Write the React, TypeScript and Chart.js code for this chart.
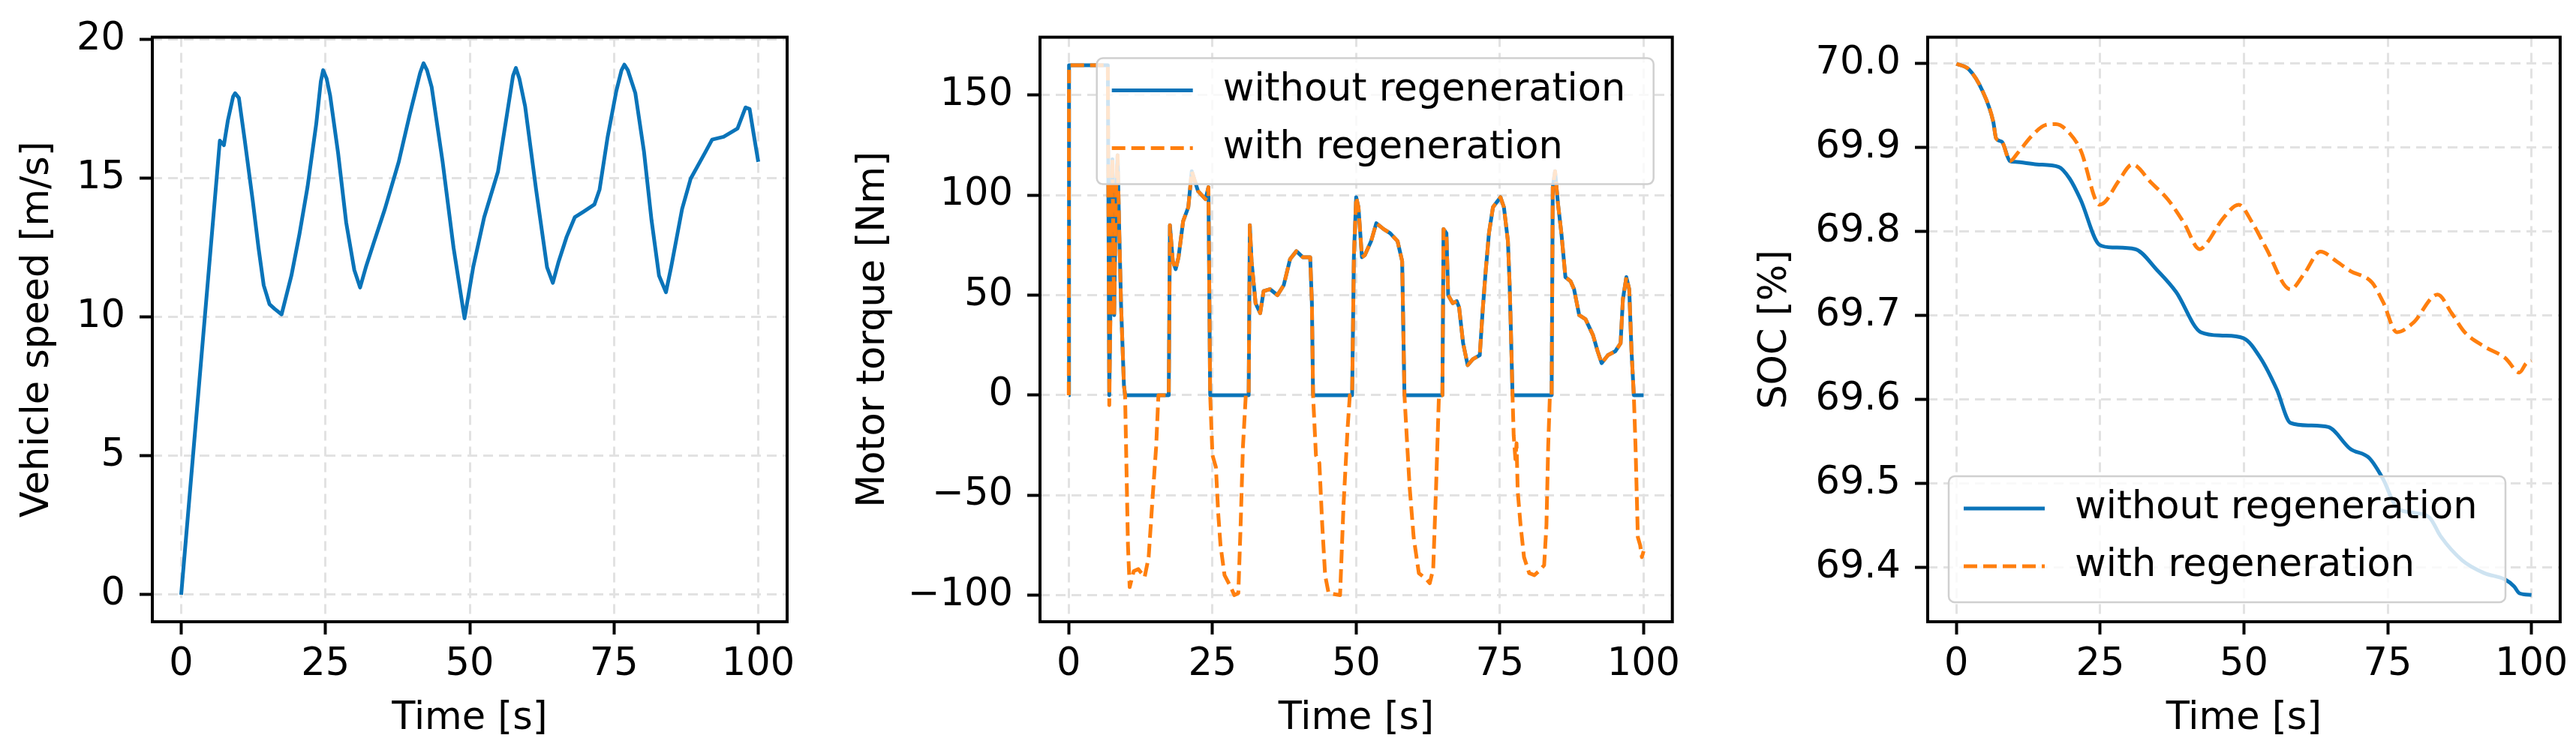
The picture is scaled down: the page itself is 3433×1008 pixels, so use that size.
import { useEffect, useRef } from 'react';
import { Chart, registerables } from 'chart.js';

Chart.register(...registerables);
Chart.defaults.font.family = '"DejaVu Sans", "Noto Sans", sans-serif';
Chart.defaults.font.size = 51;
Chart.defaults.color = '#000';

const BLUE = '#0a74b9';
const ORANGE = '#ff7f0e';
const GRID = '#e2e2e2';

// shared axis / legend data
const timeTicks = [0, 25, 50, 75, 100];
const seriesLabels = ['without regeneration', 'with regeneration'];

// vehicle speed [m/s]
const speedTime = [
  0, 3.4, 6.7, 7.4, 8.1, 9.0, 9.35, 10, 11, 12.4, 13.4, 14.3, 15.3, 16.2, 17.4, 19.1, 20.5, 21.9,
  23.4, 24.2, 24.6, 25.2, 25.8, 27.2, 28.6, 30, 31, 32, 33.4, 35.3, 37.7, 39.6, 41.4, 42, 42.6,
  43.4, 45.3, 47.2, 49.1, 50.6, 52.5, 54.9, 56.3, 57.5, 58, 58.6, 59.6, 61.5, 63.4, 64.4, 65.4,
  66.8, 68.2, 69.7, 71.6, 72.5, 73.9, 75.4, 76.3, 76.8, 77.4, 78.7, 80.2, 81.5, 82.8, 84, 84.9,
  86.8, 88.3, 90.7, 92, 94, 96.4, 97.8, 98.5, 99.2, 100,
];
const speedValues = [
  0, 8.3, 16.36, 16.2, 17.1, 17.95, 18.07, 17.9, 16.4, 14.2, 12.5, 11.15, 10.47, 10.3, 10.1, 11.5,
  13.0, 14.7, 16.96, 18.5, 18.9, 18.6, 18.0, 15.9, 13.4, 11.7, 11.07, 11.8, 12.7, 13.9, 15.6, 17.3,
  18.8, 19.15, 18.9, 18.3, 15.6, 12.5, 9.96, 11.8, 13.6, 15.25, 17.1, 18.7, 18.98, 18.6, 17.6,
  14.6, 11.8, 11.24, 12.0, 12.9, 13.6, 13.8, 14.06, 14.6, 16.5, 18.15, 18.9, 19.1, 18.9, 18.07,
  15.96, 13.5, 11.5, 10.9, 11.8, 13.9, 15.0, 15.9, 16.4, 16.5, 16.8, 17.56, 17.5, 16.6, 15.6,
];
const speedTicks = [0, 5, 10, 15, 20];

// motor torque [Nm]
const torqueTime = [
  0, 0.05, 6.8, 7.05, 7.6, 7.9, 8.2, 8.5, 8.8, 9.1, 9.6, 9.8, 10.0, 10.3, 10.6, 11.3, 12.1, 13.2,
  13.9, 14.5, 15.2, 15.6, 17.4, 17.6, 18.1, 18.6, 19.1, 19.9, 20.8, 21.4, 22.5, 23.8, 24.3, 24.6,
  25.0, 25.6, 26.0, 26.4, 27.1, 28.2, 28.8, 29.5, 29.9, 30.3, 30.8, 31.3, 31.5, 31.8, 32.5, 33.3,
  33.9, 35.0, 36.3, 37.4, 38.5, 39.6, 40.7, 42.0, 42.3, 42.5, 43.0, 43.6, 44.1, 44.6, 45.2, 47.2,
  47.8, 48.5, 48.9, 49.3, 49.6, 50.0, 50.4, 51.0, 51.5, 52.6, 53.5, 54.8, 55.9, 57.2, 58.0, 58.4,
  58.9, 59.3, 60.0, 60.9, 62.2, 62.8, 63.4, 63.9, 64.4, 65.0, 65.2, 65.7, 66.0, 66.8, 67.5, 67.9,
  68.6, 69.4, 70.3, 71.5, 72.0, 72.5, 73.1, 73.8, 75.1, 75.7, 76.4, 76.7, 76.9, 77.2, 77.4, 77.7,
  77.9, 78.1, 78.6, 79.2, 80.1, 81.0, 81.8, 82.7, 83.1, 83.4, 83.7, 84.0, 84.2, 84.6, 85.1, 85.7,
  86.4, 87.3, 87.9, 88.8, 89.9, 91.2, 92.0, 92.7, 93.8, 95.1, 96.0, 96.4, 97.0, 97.5, 97.9, 98.3,
  98.6, 99.0, 99.4, 99.7, 100,
];
const torqueWithout = [
  0, 165, 165, 0, 118, 40, 100, 120, 80, 45, 5, 0, 0, 0, 0, 0, 0, 0,
  0, 0, 0, 0, 0, 85, 67, 63, 69, 87, 94, 112, 102, 98, 104, 0,
  0, 0, 0, 0, 0, 0, 0, 0, 0, 0, 0, 0, 85, 67, 46, 41,
  52, 53, 50, 55, 68, 72, 69, 69, 46, 0, 0, 0, 0, 0, 0, 0,
  0, 0, 0, 0, 69, 99, 94, 69, 70, 77, 86, 83, 81, 77, 67, 0,
  0, 0, 0, 0, 0, 0, 0, 0, 0, 0, 83, 81, 50, 46, 47, 44,
  26, 15, 18, 20, 42, 61, 81, 94, 99, 94, 77, 55, 34, 0, 0, 0,
  0, 0, 0, 0, 0, 0, 0, 0, 0, 0, 0, 0, 104, 112, 96, 81,
  59, 57, 53, 40, 38, 30, 22, 16, 20, 22, 26, 48, 59, 53, 22, 0,
  0, 0, 0, 0, 0,
];
const torqueWith = [
  0, 165, 165, -5, 118, 40, 100, 120, 80, 45, 5, 0, -30, -75, -96, -88, -87, -91,
  -81, -55, -26, 0, 0, 85, 67, 63, 69, 87, 94, 112, 102, 98, 104, 0,
  -30, -36, -59, -75, -90, -96, -100, -99, -65, -26, 0, 0, 85, 67, 46, 41,
  52, 53, 50, 55, 68, 72, 69, 69, 46, 0, -30, -34, -65, -90, -99, -100,
  -55, -17, 0, 0, 69, 99, 94, 69, 70, 77, 86, 83, 81, 77, 67, 0,
  -26, -46, -71, -89, -92, -94, -87, -46, 0, 0, 83, 81, 50, 46, 47, 44,
  26, 15, 18, 20, 42, 61, 81, 94, 99, 94, 77, 55, 34, 0, -20, -32,
  -24, -48, -65, -81, -89, -90, -88, -85, -65, -26, 0, 0, 104, 112, 96, 81,
  59, 57, 53, 40, 38, 30, 22, 16, 20, 22, 26, 48, 59, 53, 22, 0,
  -26, -71, -75, -81, -78,
];
const torqueTicks = [-100, -50, 0, 50, 100, 150];

// state of charge [%]
const socTimeWithout = [
  0, 2.2, 4.5, 6.4, 6.9, 7.9, 9.3, 10.2, 14, 17.8, 19.7, 21.6, 24.9, 27.3, 31.1, 34.9, 38.2, 42.5,
  46.3, 49.9, 52.9, 55.7, 58.1, 61.4, 64.7, 68.5, 71.8, 74.2, 76.6, 79.4, 82.3, 84.2, 88, 91.8,
  95.5, 97, 97.9, 100,
];
const socWithout = [
  70.0, 69.993, 69.968, 69.931, 69.911, 69.907, 69.884, 69.883, 69.88, 69.877, 69.863, 69.838,
  69.784, 69.781, 69.779, 69.754, 69.728, 69.68, 69.676, 69.673, 69.649, 69.612, 69.572, 69.569,
  69.567, 69.541, 69.53, 69.505, 69.471, 69.465, 69.459, 69.437, 69.408, 69.393, 69.385, 69.377,
  69.369, 69.367,
];
const socTimeWith = [
  0, 2.2, 4.5, 6.4, 6.9, 7.9, 9.3, 10.7, 13.1, 15.5, 17.3, 19.7, 21.6, 24.9, 25.8, 28.2, 30.6,
  33.9, 36.8, 39.6, 42.3, 43.4, 46.3, 49.1, 51.5, 53.8, 58.1, 60.5, 63.3, 66.2, 68.5, 72.3, 74.2,
  76.6, 79.4, 83.7, 86.1, 88.4, 91.8, 95.5, 97.9, 99.1, 100,
];
const socWith = [
  70.0, 69.993, 69.968, 69.931, 69.911, 69.907, 69.884, 69.894, 69.914, 69.927, 69.928, 69.917,
  69.897, 69.832, 69.835, 69.86, 69.88, 69.858, 69.838, 69.81, 69.779, 69.785, 69.815, 69.832,
  69.81, 69.781, 69.731, 69.75, 69.776, 69.764, 69.753, 69.739, 69.716, 69.68, 69.691, 69.725,
  69.703, 69.68, 69.663, 69.649, 69.632, 69.643, 69.646,
];
const socTicks = [69.4, 69.5, 69.6, 69.7, 69.8, 69.9, 70.0];

const points = (xs: number[], ys: number[]) => xs.map((x, i) => ({ x, y: ys[i] }));

const blueLine = (label: string, xs: number[], ys: number[], smooth: boolean) => ({
  label,
  data: points(xs, ys),
  borderColor: BLUE,
  borderWidth: 5,
  borderJoinStyle: 'round' as const,
  pointRadius: 0,
  cubicInterpolationMode: smooth ? ('monotone' as const) : ('default' as const),
  order: 1,
});

const orangeLine = (label: string, xs: number[], ys: number[], smooth: boolean) => ({
  label,
  data: points(xs, ys),
  borderColor: ORANGE,
  borderWidth: 5,
  borderDash: [18, 8],
  borderJoinStyle: 'round' as const,
  pointRadius: 0,
  cubicInterpolationMode: smooth ? ('monotone' as const) : ('default' as const),
  order: 0,
});

// draws the four spines like a matplotlib axes box
const framePlugin = {
  id: 'axesFrame',
  afterDatasetsDraw(chart: any) {
    const { ctx, chartArea: a } = chart;
    ctx.save();
    ctx.strokeStyle = '#000';
    ctx.lineWidth = 4;
    ctx.strokeRect(a.left, a.top, a.right - a.left, a.bottom - a.top);
    ctx.restore();
  },
};

// framed legend inside the axes
const legendPlugin = (loc: 'upper right' | 'lower left') => ({
  id: 'boxLegend',
  afterDatasetsDraw(chart: any) {
    const { ctx, chartArea: a } = chart;
    const w = 742;
    const h = 168;
    const x = loc === 'upper right' ? a.right - 25 - w : a.left + 28;
    const y = loc === 'upper right' ? a.top + 28 : a.bottom - 26 - h;
    ctx.save();
    ctx.beginPath();
    ctx.roundRect(x, y, w, h, 8);
    ctx.fillStyle = 'rgba(255,255,255,0.8)';
    ctx.fill();
    ctx.strokeStyle = '#d0d0d0';
    ctx.lineWidth = 2.5;
    ctx.stroke();
    const sets = [...chart.data.datasets].sort((p: any, q: any) => q.order - p.order);
    sets.forEach((ds: any, i: number) => {
      const cy = y + 43 + i * 77;
      ctx.beginPath();
      ctx.setLineDash(ds.borderDash || []);
      ctx.strokeStyle = ds.borderColor;
      ctx.lineWidth = ds.borderWidth;
      ctx.moveTo(x + 20, cy);
      ctx.lineTo(x + 128, cy);
      ctx.stroke();
      ctx.setLineDash([]);
      ctx.fillStyle = '#000';
      ctx.font = '51px "DejaVu Sans", sans-serif';
      ctx.textBaseline = 'middle';
      ctx.textAlign = 'left';
      ctx.fillText(ds.label, x + 168, cy);
    });
    ctx.restore();
  },
});

type PanelSpec = {
  left: number;
  width: number;
  yAxisWidth: number;
  yTitlePad: number;
  padRight: number;
  yMin: number;
  yMax: number;
  yTicks: number[];
  yTitle: string;
  yFormat: (v: number) => string;
  datasets: any[];
  legend?: 'upper right' | 'lower left';
};

const HEIGHT = 1008;
const minus = (v: number) => (v < 0 ? '\u2212' + Math.abs(v) : String(v));

const panels: PanelSpec[] = [
  {
    left: 0,
    width: 1100,
    yAxisWidth: 203,
    yTitlePad: 20,
    padRight: 51,
    yMin: -0.975,
    yMax: 20.09,
    yTicks: speedTicks,
    yTitle: 'Vehicle speed [m/s]',
    yFormat: (v) => String(v),
    datasets: [blueLine('speed', speedTime, speedValues, false)],
  },
  {
    left: 1100,
    width: 1150,
    yAxisWidth: 286,
    yTitlePad: 34,
    padRight: 20.5,
    yMin: -113.3,
    yMax: 179,
    yTicks: torqueTicks,
    yTitle: 'Motor torque [Nm]',
    yFormat: minus,
    datasets: [
      blueLine(seriesLabels[0], torqueTime, torqueWithout, false),
      orangeLine(seriesLabels[1], torqueTime, torqueWith, false),
    ],
    legend: 'upper right',
  },
  {
    left: 2250,
    width: 1183,
    yAxisWidth: 319,
    yTitlePad: 86,
    padRight: 16,
    yMin: 69.335,
    yMax: 70.0316,
    yTicks: socTicks,
    yTitle: 'SOC [%]',
    yFormat: (v) => v.toFixed(1),
    datasets: [
      blueLine(seriesLabels[0], socTimeWithout, socWithout, true),
      orangeLine(seriesLabels[1], socTimeWith, socWith, true),
    ],
    legend: 'lower left',
  },
];

const gridOpts = {
  color: GRID,
  lineWidth: 3,
  tickLength: 17,
  tickColor: '#000',
  tickWidth: 4,
  tickBorderDash: [],
};

const Panel = ({ spec }: { spec: PanelSpec }) => {
  const canvasRef = useRef<HTMLCanvasElement>(null);

  useEffect(() => {
    if (!canvasRef.current) return;
    const plugins: any[] = [framePlugin];
    if (spec.legend) plugins.push(legendPlugin(spec.legend));

    const chart = new Chart(canvasRef.current, {
      type: 'line',
      data: { datasets: spec.datasets },
      options: {
        responsive: false,
        animation: false,
        layout: { padding: { top: 37, right: spec.padRight, left: 0, bottom: 0 } },
        plugins: { legend: { display: false }, tooltip: { enabled: false } },
        scales: {
          x: {
            type: 'linear',
            min: -5,
            max: 105,
            afterBuildTicks: (axis: any) => {
              axis.ticks = timeTicks.map((value) => ({ value }));
            },
            afterFit: (axis: any) => {
              axis.height = HEIGHT - 829;
            },
            grid: gridOpts,
            border: { display: false, dash: [13, 8] },
            ticks: {
              padding: 10,
              maxRotation: 0,
              autoSkip: false,
              callback: (v: any) => String(v),
            },
            title: { display: true, text: 'Time [s]', padding: { top: 0, bottom: 19 } },
          },
          y: {
            type: 'linear',
            min: spec.yMin,
            max: spec.yMax,
            afterBuildTicks: (axis: any) => {
              axis.ticks = spec.yTicks.map((value) => ({ value }));
            },
            afterFit: (axis: any) => {
              axis.width = spec.yAxisWidth;
            },
            grid: gridOpts,
            border: { display: false, dash: [13, 8] },
            ticks: {
              padding: 19,
              autoSkip: false,
              callback: (v: any) => spec.yFormat(Number(v)),
            },
            title: { display: true, text: spec.yTitle, padding: { top: spec.yTitlePad, bottom: 0 } },
          },
        },
      },
      plugins,
    } as any);

    return () => {
      chart.destroy();
    };
  }, [spec]);

  return (
    <canvas
      ref={canvasRef}
      width={spec.width}
      height={HEIGHT}
      style={{ position: 'absolute', left: spec.left, top: 0, width: spec.width, height: HEIGHT }}
    />
  );
};

export default function App() {
  return (
    <div style={{ position: 'absolute', left: 0, top: 0, width: 3433, height: HEIGHT, background: '#fff' }}>
      {panels.map((p, i) => (
        <Panel key={i} spec={p} />
      ))}
    </div>
  );
}
